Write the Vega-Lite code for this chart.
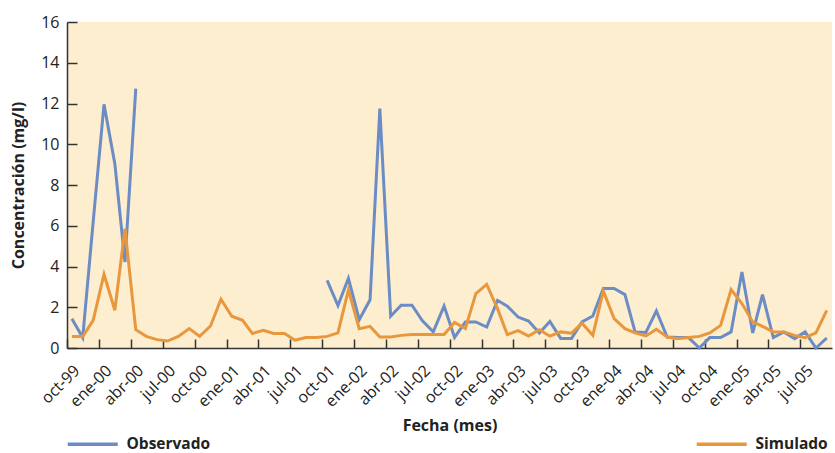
{
  "$schema": "https://vega.github.io/schema/vega-lite/v6.json",
  "width": 765,
  "height": 326,
  "autosize": {"type": "none"},
  "padding": {"left": 67, "top": 22, "right": 3, "bottom": 105},
  "background": "white",
  "config": {
    "view": {"fill": "#fdeecf", "stroke": null},
    "font": "Open Sans"
  },
  "data": {"values": [
    {"fecha": "1999-10-15", "serie": "Observado", "valor": 1.44},
    {"fecha": "1999-11-15", "serie": "Observado", "valor": 0.51},
    {"fecha": "1999-12-15", "serie": "Observado", "valor": 6.2},
    {"fecha": "2000-01-15", "serie": "Observado", "valor": 11.96},
    {"fecha": "2000-02-15", "serie": "Observado", "valor": 9.05},
    {"fecha": "2000-03-15", "serie": "Observado", "valor": 4.22},
    {"fecha": "2000-04-15", "serie": "Observado", "valor": 12.73},
    {"fecha": "2000-05-15", "serie": "Observado", "valor": null},
    {"fecha": "2001-09-15", "serie": "Observado", "valor": null},
    {"fecha": "2001-10-15", "serie": "Observado", "valor": 3.32},
    {"fecha": "2001-11-15", "serie": "Observado", "valor": 2.08},
    {"fecha": "2001-12-15", "serie": "Observado", "valor": 3.42},
    {"fecha": "2002-01-15", "serie": "Observado", "valor": 1.39},
    {"fecha": "2002-02-15", "serie": "Observado", "valor": 2.37},
    {"fecha": "2002-03-15", "serie": "Observado", "valor": 11.75},
    {"fecha": "2002-04-15", "serie": "Observado", "valor": 1.56},
    {"fecha": "2002-05-15", "serie": "Observado", "valor": 2.1},
    {"fecha": "2002-06-15", "serie": "Observado", "valor": 2.1},
    {"fecha": "2002-07-15", "serie": "Observado", "valor": 1.33},
    {"fecha": "2002-08-15", "serie": "Observado", "valor": 0.79},
    {"fecha": "2002-09-15", "serie": "Observado", "valor": 2.06},
    {"fecha": "2002-10-15", "serie": "Observado", "valor": 0.52},
    {"fecha": "2002-11-15", "serie": "Observado", "valor": 1.28},
    {"fecha": "2002-12-15", "serie": "Observado", "valor": 1.28},
    {"fecha": "2003-01-15", "serie": "Observado", "valor": 1.03},
    {"fecha": "2003-02-15", "serie": "Observado", "valor": 2.34},
    {"fecha": "2003-03-15", "serie": "Observado", "valor": 2.05},
    {"fecha": "2003-04-15", "serie": "Observado", "valor": 1.52},
    {"fecha": "2003-05-15", "serie": "Observado", "valor": 1.32},
    {"fecha": "2003-06-15", "serie": "Observado", "valor": 0.74},
    {"fecha": "2003-07-15", "serie": "Observado", "valor": 1.3},
    {"fecha": "2003-08-15", "serie": "Observado", "valor": 0.47},
    {"fecha": "2003-09-15", "serie": "Observado", "valor": 0.47},
    {"fecha": "2003-10-15", "serie": "Observado", "valor": 1.28},
    {"fecha": "2003-11-15", "serie": "Observado", "valor": 1.57},
    {"fecha": "2003-12-15", "serie": "Observado", "valor": 2.92},
    {"fecha": "2004-01-15", "serie": "Observado", "valor": 2.92},
    {"fecha": "2004-02-15", "serie": "Observado", "valor": 2.62},
    {"fecha": "2004-03-15", "serie": "Observado", "valor": 0.79},
    {"fecha": "2004-04-15", "serie": "Observado", "valor": 0.76},
    {"fecha": "2004-05-15", "serie": "Observado", "valor": 1.82},
    {"fecha": "2004-06-15", "serie": "Observado", "valor": 0.54},
    {"fecha": "2004-07-15", "serie": "Observado", "valor": 0.51},
    {"fecha": "2004-08-15", "serie": "Observado", "valor": 0.51},
    {"fecha": "2004-09-15", "serie": "Observado", "valor": 0.0},
    {"fecha": "2004-10-15", "serie": "Observado", "valor": 0.51},
    {"fecha": "2004-11-15", "serie": "Observado", "valor": 0.51},
    {"fecha": "2004-12-15", "serie": "Observado", "valor": 0.79},
    {"fecha": "2005-01-15", "serie": "Observado", "valor": 3.73},
    {"fecha": "2005-02-15", "serie": "Observado", "valor": 0.74},
    {"fecha": "2005-03-15", "serie": "Observado", "valor": 2.62},
    {"fecha": "2005-04-15", "serie": "Observado", "valor": 0.51},
    {"fecha": "2005-05-15", "serie": "Observado", "valor": 0.79},
    {"fecha": "2005-06-15", "serie": "Observado", "valor": 0.46},
    {"fecha": "2005-07-15", "serie": "Observado", "valor": 0.79},
    {"fecha": "2005-08-15", "serie": "Observado", "valor": 0.0},
    {"fecha": "2005-09-15", "serie": "Observado", "valor": 0.49},

    {"fecha": "1999-10-15", "serie": "Simulado", "valor": 0.57},
    {"fecha": "1999-11-15", "serie": "Simulado", "valor": 0.57},
    {"fecha": "1999-12-15", "serie": "Simulado", "valor": 1.36},
    {"fecha": "2000-01-15", "serie": "Simulado", "valor": 3.62},
    {"fecha": "2000-02-15", "serie": "Simulado", "valor": 1.85},
    {"fecha": "2000-03-15", "serie": "Simulado", "valor": 5.86},
    {"fecha": "2000-04-15", "serie": "Simulado", "valor": 0.9},
    {"fecha": "2000-05-15", "serie": "Simulado", "valor": 0.57},
    {"fecha": "2000-06-15", "serie": "Simulado", "valor": 0.41},
    {"fecha": "2000-07-15", "serie": "Simulado", "valor": 0.34},
    {"fecha": "2000-08-15", "serie": "Simulado", "valor": 0.57},
    {"fecha": "2000-09-15", "serie": "Simulado", "valor": 0.95},
    {"fecha": "2000-10-15", "serie": "Simulado", "valor": 0.57},
    {"fecha": "2000-11-15", "serie": "Simulado", "valor": 1.08},
    {"fecha": "2000-12-15", "serie": "Simulado", "valor": 2.39},
    {"fecha": "2001-01-15", "serie": "Simulado", "valor": 1.56},
    {"fecha": "2001-02-15", "serie": "Simulado", "valor": 1.36},
    {"fecha": "2001-03-15", "serie": "Simulado", "valor": 0.71},
    {"fecha": "2001-04-15", "serie": "Simulado", "valor": 0.87},
    {"fecha": "2001-05-15", "serie": "Simulado", "valor": 0.71},
    {"fecha": "2001-06-15", "serie": "Simulado", "valor": 0.71},
    {"fecha": "2001-07-15", "serie": "Simulado", "valor": 0.38},
    {"fecha": "2001-08-15", "serie": "Simulado", "valor": 0.51},
    {"fecha": "2001-09-15", "serie": "Simulado", "valor": 0.51},
    {"fecha": "2001-10-15", "serie": "Simulado", "valor": 0.57},
    {"fecha": "2001-11-15", "serie": "Simulado", "valor": 0.74},
    {"fecha": "2001-12-15", "serie": "Simulado", "valor": 2.85},
    {"fecha": "2002-01-15", "serie": "Simulado", "valor": 0.95},
    {"fecha": "2002-02-15", "serie": "Simulado", "valor": 1.06},
    {"fecha": "2002-03-15", "serie": "Simulado", "valor": 0.54},
    {"fecha": "2002-04-15", "serie": "Simulado", "valor": 0.54},
    {"fecha": "2002-05-15", "serie": "Simulado", "valor": 0.62},
    {"fecha": "2002-06-15", "serie": "Simulado", "valor": 0.66},
    {"fecha": "2002-07-15", "serie": "Simulado", "valor": 0.66},
    {"fecha": "2002-08-15", "serie": "Simulado", "valor": 0.66},
    {"fecha": "2002-09-15", "serie": "Simulado", "valor": 0.66},
    {"fecha": "2002-10-15", "serie": "Simulado", "valor": 1.25},
    {"fecha": "2002-11-15", "serie": "Simulado", "valor": 0.95},
    {"fecha": "2002-12-15", "serie": "Simulado", "valor": 2.67},
    {"fecha": "2003-01-15", "serie": "Simulado", "valor": 3.12},
    {"fecha": "2003-02-15", "serie": "Simulado", "valor": 1.93},
    {"fecha": "2003-03-15", "serie": "Simulado", "valor": 0.66},
    {"fecha": "2003-04-15", "serie": "Simulado", "valor": 0.85},
    {"fecha": "2003-05-15", "serie": "Simulado", "valor": 0.59},
    {"fecha": "2003-06-15", "serie": "Simulado", "valor": 0.9},
    {"fecha": "2003-07-15", "serie": "Simulado", "valor": 0.58},
    {"fecha": "2003-08-15", "serie": "Simulado", "valor": 0.79},
    {"fecha": "2003-09-15", "serie": "Simulado", "valor": 0.73},
    {"fecha": "2003-10-15", "serie": "Simulado", "valor": 1.22},
    {"fecha": "2003-11-15", "serie": "Simulado", "valor": 0.62},
    {"fecha": "2003-12-15", "serie": "Simulado", "valor": 2.8},
    {"fecha": "2004-01-15", "serie": "Simulado", "valor": 1.44},
    {"fecha": "2004-02-15", "serie": "Simulado", "valor": 0.95},
    {"fecha": "2004-03-15", "serie": "Simulado", "valor": 0.74},
    {"fecha": "2004-04-15", "serie": "Simulado", "valor": 0.59},
    {"fecha": "2004-05-15", "serie": "Simulado", "valor": 0.92},
    {"fecha": "2004-06-15", "serie": "Simulado", "valor": 0.54},
    {"fecha": "2004-07-15", "serie": "Simulado", "valor": 0.46},
    {"fecha": "2004-08-15", "serie": "Simulado", "valor": 0.51},
    {"fecha": "2004-09-15", "serie": "Simulado", "valor": 0.57},
    {"fecha": "2004-10-15", "serie": "Simulado", "valor": 0.74},
    {"fecha": "2004-11-15", "serie": "Simulado", "valor": 1.11},
    {"fecha": "2004-12-15", "serie": "Simulado", "valor": 2.87},
    {"fecha": "2005-01-15", "serie": "Simulado", "valor": 2.18},
    {"fecha": "2005-02-15", "serie": "Simulado", "valor": 1.28},
    {"fecha": "2005-03-15", "serie": "Simulado", "valor": 1.06},
    {"fecha": "2005-04-15", "serie": "Simulado", "valor": 0.79},
    {"fecha": "2005-05-15", "serie": "Simulado", "valor": 0.79},
    {"fecha": "2005-06-15", "serie": "Simulado", "valor": 0.62},
    {"fecha": "2005-07-15", "serie": "Simulado", "valor": 0.51},
    {"fecha": "2005-08-15", "serie": "Simulado", "valor": 0.74},
    {"fecha": "2005-09-15", "serie": "Simulado", "valor": 1.85}
  ]},
  "mark": {"type": "line", "strokeWidth": 3, "invalid": "break-paths-show-domains"},
  "encoding": {
    "x": {
      "field": "fecha",
      "type": "temporal",
      "scale": {
        "type": "utc",
        "domain": [
          {"year": 1999, "month": 10, "date": 1, "utc": true},
          {"year": 2005, "month": 9, "date": 30, "utc": true}
        ]
      },
      "axis": {
        "title": "Fecha (mes)",
        "titleFontSize": 16,
        "titleFontWeight": "bold",
        "titleColor": "#222",
        "titlePadding": 8,
        "tickCount": {"interval": "month", "step": 3},
        "labelExpr": "['ene','feb','mar','abr','may','jun','jul','ago','sep','oct','nov','dic'][utcmonth(datum.value)] + '-' + utcFormat(datum.value, '%y')",
        "labelAngle": -45,
        "labelAlign": "right",
        "labelBaseline": "top",
        "labelFontSize": 16,
        "labelColor": "#222",
        "labelPadding": 23,
        "labelOffset": 4,
        "labelOverlap": false,
        "labelFlush": false,
        "labelBound": false,
        "grid": false,
        "domainColor": "#333",
        "domainWidth": 1.5,
        "tickColor": "#333",
        "tickWidth": 1.5,
        "tickSize": -9
      }
    },
    "y": {
      "field": "valor",
      "type": "quantitative",
      "scale": {"domain": [0, 16], "nice": false},
      "axis": {
        "title": "Concentración (mg/l)",
        "titleFontSize": 16,
        "titleFontWeight": "bold",
        "titleColor": "#222",
        "titlePadding": 14,
        "values": [0, 2, 4, 6, 8, 10, 12, 14, 16],
        "labelFontSize": 16,
        "labelColor": "#222",
        "labelPadding": 18,
        "grid": false,
        "domainColor": "#333",
        "domainWidth": 1.5,
        "tickColor": "#333",
        "tickWidth": 1.5,
        "tickSize": -10
      }
    },
    "color": {
      "field": "serie",
      "type": "nominal",
      "scale": {"domain": ["Observado", "Simulado"], "range": ["#6b8cc4", "#e8973c"]},
      "legend": {
        "title": null,
        "orient": "none",
        "legendX": 18,
        "legendY": 414,
        "direction": "horizontal",
        "symbolType": "M-5,0H5",
        "symbolSize": 100,
        "symbolStrokeWidth": 3.5,
        "labelFontSize": 15.5,
        "labelFontWeight": "bold",
        "labelColor": "#222",
        "labelOffset": 26,
        "labelLimit": 0,
        "columnPadding": 478
      }
    }
  }
}
